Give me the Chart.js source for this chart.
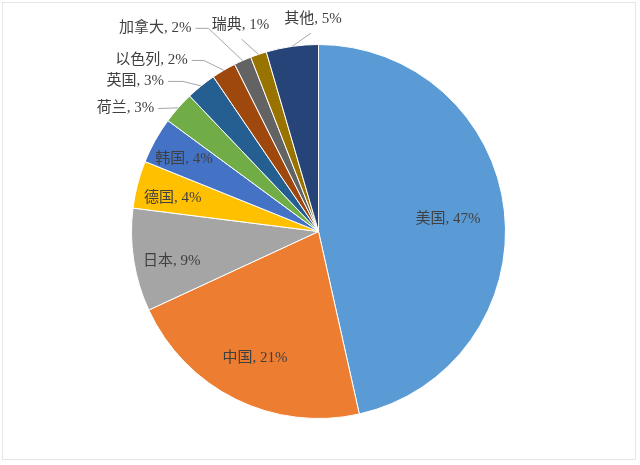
<!DOCTYPE html>
<html lang="zh">
<head>
    <meta charset="UTF-8">
    <title>各国占比</title>
    <style>
        body {
            margin: 0;
            background: #fff;
        }
        .frame {
            position: absolute;
            left: 2px;
            top: 2px;
            width: 634px;
            height: 458px;
            border: 1px solid #e6e6e6;
            box-sizing: border-box;
        }
        .chart-container {
            position: relative;
            width: 640px;
            height: 465px;
        }
    </style>
    <script src="https://cdn.jsdelivr.net/npm/chart.js"></script>
</head>
<body>
    <div class="frame"></div>
    <div class="chart-container">
        <canvas id="pieChart"></canvas>
    </div>
    <script>
        // values (slice sizes), and the label text shown
        const countries = ['美国', '中国', '日本', '德国', '韩国', '荷兰', '英国', '以色列', '加拿大', '瑞典', '其他'];
        const shares = [46.5, 21.6, 8.9, 4.1, 4.0, 2.8, 2.6, 2.1, 1.5, 1.4, 4.5];
        const shareLabels = ['47%', '21%', '9%', '4%', '4%', '3%', '3%', '2%', '2%', '1%', '5%'];
        const colors = ['#5B9BD5', '#ED7D31', '#A5A5A5', '#FFC000', '#4472C4', '#70AD47',
                        '#255E91', '#9E480E', '#636363', '#997300', '#264478'];

        // where each label goes: at (angle from top, k*radius) from the pie centre;
        // outside labels get a leader line to the middle of their slice
        const labelPlacement = [
            { mode: 'in', angle: 84.5, k: 0.696 },
            { mode: 'in', angle: 206.7, k: 0.757 },
            { mode: 'in', angle: 258.7, k: 0.80 },
            { mode: 'in', angle: 282.9, k: 0.80 },
            { mode: 'in', angle: 298.3, k: 0.817 },
            { mode: 'side', angle: 302.5, k: 1.224, elbow: 0 },
            { mode: 'side', angle: 309.3, k: 1.267, elbow: 15 },
            { mode: 'side', angle: 315.7, k: 1.278, elbow: 12 },
            { mode: 'side', angle: 321.2, k: 1.394, elbow: 13 },
            { mode: 'top', angle: 339.3, k: 1.18, dx: 1 },
            { mode: 'top', angle: 358.5, k: 1.136, dx: -2 }
        ];

        const labelFont = '15px "Liberation Serif", "Noto Sans CJK SC", serif';

        const sliceLabels = {
            id: 'sliceLabels',
            afterDatasetsDraw(chart) {
                const ctx = chart.ctx;
                const arcs = chart.getDatasetMeta(0).data;
                ctx.save();
                ctx.font = labelFont;
                ctx.fillStyle = '#404040';
                ctx.textBaseline = 'middle';
                ctx.textAlign = 'center';
                arcs.forEach((arc, i) => {
                    const p = arc.getProps(['x', 'y', 'startAngle', 'endAngle', 'outerRadius'], true);
                    const mid = (p.startAngle + p.endAngle) / 2;
                    const r = p.outerRadius;
                    const text = countries[i] + ', ' + shareLabels[i];
                    const place = labelPlacement[i];
                    const w = ctx.measureText(text).width;
                    const a = place.angle * Math.PI / 180 - Math.PI / 2;
                    const cx = p.x + Math.cos(a) * r * place.k;
                    const cy = p.y + Math.sin(a) * r * place.k;
                    ctx.fillText(text, cx, cy);
                    if (place.mode === 'in') return;

                    // leader line ends on the rim at the slice middle
                    const ex = p.x + Math.cos(mid) * r;
                    const ey = p.y + Math.sin(mid) * r;
                    ctx.beginPath();
                    ctx.strokeStyle = '#a6a6a6';
                    ctx.lineWidth = 1;
                    if (place.mode === 'side') {
                        const sx = cx + w / 2 + 4;
                        ctx.moveTo(sx, cy);
                        ctx.lineTo(sx + place.elbow, cy);
                        ctx.lineTo(ex, ey);
                    } else {
                        ctx.moveTo(cx + place.dx, cy + 14);
                        ctx.lineTo(ex, ey);
                    }
                    ctx.stroke();
                });
                ctx.restore();
            }
        };

        new Chart(document.getElementById('pieChart'), {
            type: 'pie',
            data: {
                labels: countries,
                datasets: [{
                    data: shares,
                    backgroundColor: colors,
                    borderColor: '#ffffff',
                    borderWidth: 1,
                    hoverOffset: 0
                }]
            },
            options: {
                responsive: true,
                maintainAspectRatio: false,
                animation: false,
                layout: {
                    padding: { top: 44, bottom: 46, left: 0, right: 3 }
                },
                plugins: {
                    legend: { display: false },
                    tooltip: { enabled: false }
                }
            },
            plugins: [sliceLabels]
        });
    </script>
</body>
</html>
